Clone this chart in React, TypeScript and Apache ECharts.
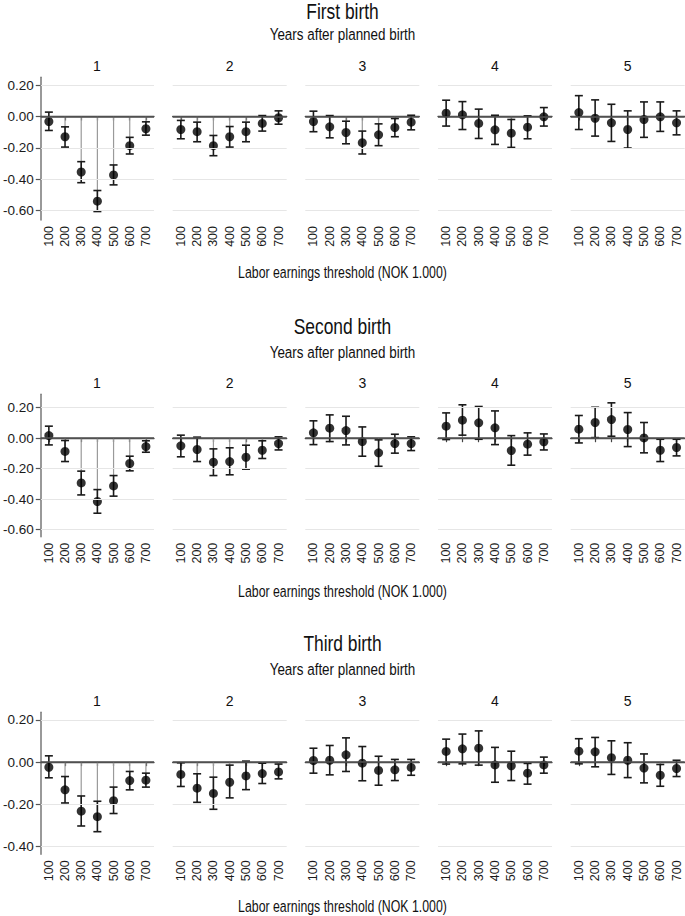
import React, { useEffect, useRef } from "react";
import * as echarts from "echarts";

const thresholds = ["100", "200", "300", "400", "500", "600", "700"];
const years = ["1", "2", "3", "4", "5"];
const sectionTitles = ["First birth", "Second birth", "Third birth"];
const subTitle = "Years after planned birth";
const xTitle = "Labor earnings threshold (NOK 1.000)";

const firstYTicks = [0.2, 0, -0.2, -0.4, -0.6];
const secondYTicks = [0.2, 0, -0.2, -0.4, -0.6];
const thirdYTicks = [0.2, 0, -0.2, -0.4];

// First birth
const firstEst = [
  [-0.032, -0.129, -0.354, -0.54, -0.373, -0.186, -0.078],
  [-0.083, -0.097, -0.186, -0.129, -0.097, -0.044, -0.008],
  [-0.032, -0.066, -0.102, -0.167, -0.117, -0.07, -0.036],
  [0.021, 0.011, -0.044, -0.085, -0.106, -0.068, -0.002],
  [0.025, -0.011, -0.04, -0.083, -0.019, -0.002, -0.04],
];
const firstLo = [
  [-0.089, -0.195, -0.422, -0.606, -0.436, -0.239, -0.119],
  [-0.142, -0.161, -0.25, -0.195, -0.161, -0.093, -0.049],
  [-0.097, -0.136, -0.174, -0.239, -0.186, -0.129, -0.085],
  [-0.061, -0.083, -0.14, -0.178, -0.197, -0.142, -0.061],
  [-0.083, -0.125, -0.159, -0.201, -0.133, -0.095, -0.117],
];
const firstHi = [
  [0.028, -0.066, -0.288, -0.472, -0.309, -0.133, -0.034],
  [-0.025, -0.036, -0.121, -0.064, -0.036, 0.006, 0.036],
  [0.034, 0.006, -0.03, -0.093, -0.047, -0.013, 0.008],
  [0.104, 0.095, 0.047, 0.008, -0.019, 0.004, 0.057],
  [0.133, 0.106, 0.078, 0.036, 0.093, 0.093, 0.036],
];

// Second birth
const secondEst = [
  [0.017, -0.087, -0.293, -0.415, -0.313, -0.166, -0.055],
  [-0.05, -0.074, -0.157, -0.153, -0.125, -0.079, -0.035],
  [0.035, 0.066, 0.05, -0.022, -0.096, -0.035, -0.035],
  [0.079, 0.118, 0.101, 0.068, -0.081, -0.039, -0.024],
  [0.059, 0.103, 0.122, 0.057, 0.002, -0.079, -0.061],
];
const secondLo = [
  [-0.044, -0.153, -0.372, -0.492, -0.38, -0.214, -0.092],
  [-0.122, -0.153, -0.245, -0.24, -0.203, -0.133, -0.077],
  [-0.042, -0.022, -0.044, -0.118, -0.184, -0.098, -0.081],
  [-0.009, 0.02, -0.007, -0.042, -0.177, -0.111, -0.077],
  [-0.031, 0.004, 0.013, -0.055, -0.096, -0.153, -0.116],
];
const secondHi = [
  [0.079, -0.015, -0.216, -0.337, -0.245, -0.118, -0.017],
  [0.02, 0.007, -0.07, -0.063, -0.046, -0.017, 0.009],
  [0.114, 0.153, 0.144, 0.074, -0.011, 0.026, 0.009],
  [0.166, 0.219, 0.208, 0.179, 0.017, 0.035, 0.028],
  [0.149, 0.203, 0.232, 0.168, 0.103, -0.007, -0.007],
];

// Third birth
const thirdEst = [
  [-0.024, -0.131, -0.232, -0.258, -0.182, -0.087, -0.085],
  [-0.058, -0.123, -0.148, -0.095, -0.065, -0.054, -0.046],
  [0.008, 0.009, 0.035, -0.005, -0.039, -0.036, -0.025],
  [0.051, 0.063, 0.066, -0.013, -0.017, -0.052, -0.013],
  [0.052, 0.049, 0.021, 0.009, -0.028, -0.062, -0.03],
];
const thirdLo = [
  [-0.074, -0.193, -0.302, -0.329, -0.243, -0.131, -0.118],
  [-0.115, -0.19, -0.223, -0.169, -0.13, -0.101, -0.079],
  [-0.052, -0.06, -0.044, -0.088, -0.109, -0.087, -0.062],
  [-0.009, -0.008, -0.014, -0.095, -0.087, -0.104, -0.052],
  [-0.008, -0.022, -0.058, -0.073, -0.098, -0.114, -0.068],
];
const thirdHi = [
  [0.03, -0.068, -0.16, -0.185, -0.118, -0.044, -0.052],
  [-0.003, -0.055, -0.071, -0.014, 0.005, -0.005, -0.009],
  [0.066, 0.079, 0.115, 0.074, 0.028, 0.013, 0.013],
  [0.109, 0.133, 0.148, 0.07, 0.052, -0.006, 0.024],
  [0.111, 0.117, 0.101, 0.092, 0.039, -0.011, 0.009],
];

const FONT = "'Liberation Sans', Arial, Helvetica, sans-serif";

const sections = [
  {
    title: sectionTitles[0], est: firstEst, lo: firstLo, hi: firstHi, ticks: firstYTicks,
    min: -0.66, max: 0.25, top: 77.3, height: 142.7,
    titleY: 11, subY: 34, panelY: 66.3, xTitleY: 272.5,
  },
  {
    title: sectionTitles[1], est: secondEst, lo: secondLo, hi: secondHi, ticks: secondYTicks,
    min: -0.646, max: 0.288, top: 394.3, height: 142.4,
    titleY: 326, subY: 352, panelY: 383, xTitleY: 591,
  },
  {
    title: sectionTitles[2], est: thirdEst, lo: thirdLo, hi: thirdHi, ticks: thirdYTicks,
    min: -0.436, max: 0.236, top: 712.3, height: 142,
    titleY: 643, subY: 669, panelY: 701, xTitleY: 906,
  },
];

const panelLefts = [40, 172.7, 305.3, 438, 570.7];
const panelWidth = 114;
const SQ = 0.79;

function buildOption() {
  const grid: any[] = [];
  const xAxis: any[] = [];
  const yAxis: any[] = [];
  const series: any[] = [];
  const graphic: any[] = [];

  sections.forEach((sec, s) => {
    graphic.push({
      type: "text", x: 342.5, y: sec.titleY, scaleX: SQ, silent: true,
      style: { text: sec.title, fontSize: 22, fontFamily: FONT, fill: "#111", align: "center", verticalAlign: "middle" },
    });
    graphic.push({
      type: "text", x: 342.5, y: sec.subY, scaleX: SQ, silent: true,
      style: { text: subTitle, fontSize: 17, fontFamily: FONT, fill: "#111", align: "center", verticalAlign: "middle" },
    });
    graphic.push({
      type: "text", x: 342.5, y: sec.xTitleY, scaleX: SQ, silent: true,
      style: { text: xTitle, fontSize: 15.6, fontFamily: FONT, fill: "#111", align: "center", verticalAlign: "middle" },
    });

    years.forEach((yr, p) => {
      const idx = s * 5 + p;
      const left = panelLefts[p];
      graphic.push({
        type: "text", x: left + panelWidth / 2, y: sec.panelY, silent: true,
        style: { text: yr, fontSize: 14, fontFamily: FONT, fill: "#111", align: "center", verticalAlign: "middle" },
      });
      grid.push({ left, top: sec.top, width: panelWidth, height: sec.height });
      xAxis.push({
        type: "category",
        gridIndex: idx,
        data: thresholds,
        boundaryGap: true,
        axisLine: { show: true, lineStyle: { color: "#444", width: 1.3 } },
        axisTick: { show: true, alignWithLabel: true, interval: 0, length: 4, lineStyle: { color: "#444", width: 1.2 } },
        axisLabel: {
          show: true, interval: 0, hideOverlap: false, rotate: 90, margin: 6,
          fontSize: 12.5, fontFamily: FONT, color: "#1a1a1a",
        },
        splitLine: { show: false },
      });
      const first = p === 0;
      yAxis.push({
        type: "value",
        gridIndex: idx,
        min: sec.min,
        max: sec.max,
        axisLine: { show: first, lineStyle: { color: "#777", width: 1.5 } },
        axisTick: { show: first, length: 5, customValues: sec.ticks, lineStyle: { color: "#555", width: 1.2 } },
        axisLabel: {
          show: first, customValues: sec.ticks, margin: 7, fontSize: 13.5, fontFamily: FONT, color: "#1a1a1a",
          formatter: (v: number) => v.toFixed(2),
        },
        splitLine: { show: false },
      });

      const est = sec.est[p];
      const lo = sec.lo[p];
      const hi = sec.hi[p];

      series.push({
        type: "scatter",
        xAxisIndex: idx,
        yAxisIndex: idx,
        data: [],
        z: 0,
        silent: true,
        markLine: {
          silent: true,
          symbol: "none",
          label: { show: false },
          animation: false,
          lineStyle: { color: "#e6e6e6", width: 1, type: "solid" },
          data: sec.ticks.map((v) =>
            v === 0
              ? { yAxis: v, lineStyle: { color: "#555", width: 1.5, type: "solid" } }
              : { yAxis: v }
          ),
        },
      });

      series.push({
        type: "custom",
        xAxisIndex: idx,
        yAxisIndex: idx,
        z: 2,
        silent: true,
        data: est.map((e, i) => [i, e, lo[i], hi[i]]),
        encode: { x: 0, y: [1, 2, 3] },
        renderItem: (params: any, api: any) => {
          const i = api.value(0);
          const e = api.value(1);
          const l = api.value(2);
          const h = api.value(3);
          const p0 = api.coord([i, 0]);
          const pe = api.coord([i, e]);
          const pl = api.coord([i, l]);
          const ph = api.coord([i, h]);
          const cap = 4;
          const bar = { stroke: "#1a1a1a", lineWidth: 1.6 };
          return {
            type: "group",
            children: [
              { type: "line", shape: { x1: p0[0], y1: p0[1], x2: pe[0], y2: pe[1] }, style: { stroke: "#9a9a9a", lineWidth: 1.2 } },
              { type: "line", shape: { x1: pl[0], y1: pl[1], x2: ph[0], y2: ph[1] }, style: bar },
              { type: "line", shape: { x1: pl[0] - cap, y1: pl[1], x2: pl[0] + cap, y2: pl[1] }, style: bar },
              { type: "line", shape: { x1: ph[0] - cap, y1: ph[1], x2: ph[0] + cap, y2: ph[1] }, style: bar },
            ],
          };
        },
      });

      series.push({
        type: "scatter",
        xAxisIndex: idx,
        yAxisIndex: idx,
        z: 3,
        silent: true,
        symbol: "circle",
        symbolSize: 9,
        itemStyle: { color: "#000" },
        data: est.map((e, i) => [i, e]),
      });
    });
  });

  return { animation: false, backgroundColor: "#fff", grid, xAxis, yAxis, series, graphic };
}

export default function App() {
  const ref = useRef<HTMLDivElement>(null);
  useEffect(() => {
    document.body.style.margin = "0";
    if (!ref.current) return;
    const chart = echarts.init(ref.current, undefined, { renderer: "svg" });
    chart.setOption(buildOption() as any);
    return () => chart.dispose();
  }, []);
  return <div ref={ref} style={{ width: 685, height: 916 }} />;
}
